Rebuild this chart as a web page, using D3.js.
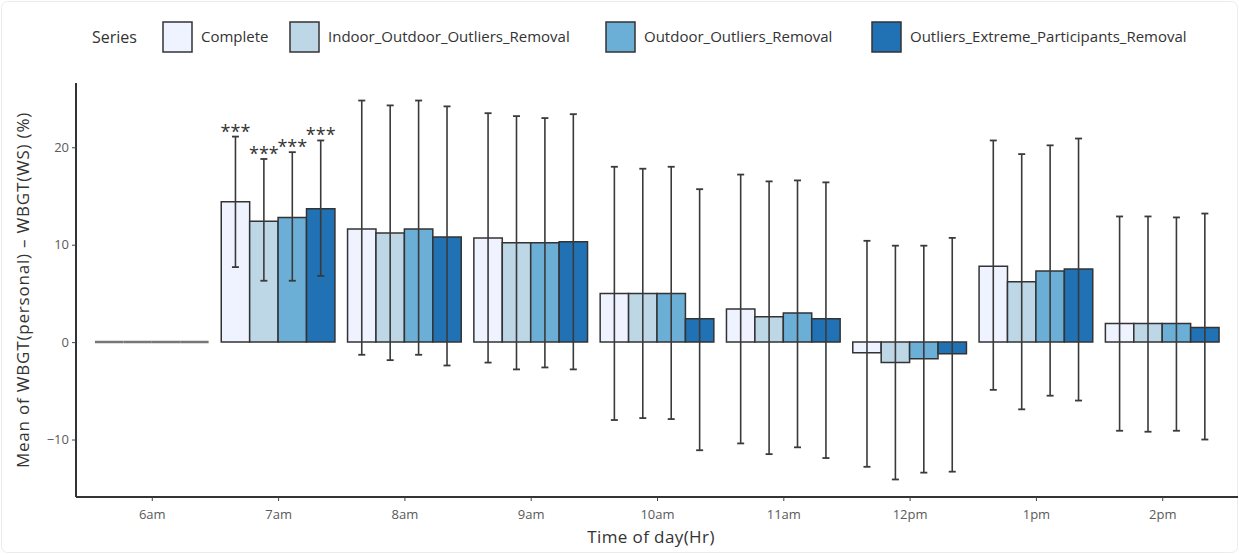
<!DOCTYPE html>
<html>
<head>
<meta charset="utf-8">
<script src="https://cdn.jsdelivr.net/npm/d3@7"></script>
<style>
  body { margin: 0; background: #fff; }
  text { font-family: "Open Sans", "DejaVu Sans", sans-serif; }
</style>
</head>
<body>
<svg id="chart" width="1239" height="554"></svg>
<script>
// categories and series
const times = ["6am", "7am", "8am", "9am", "10am", "11am", "12pm", "1pm", "2pm"];
const series = ["Complete", "Indoor_Outdoor_Outliers_Removal", "Outdoor_Outliers_Removal", "Outliers_Extreme_Participants_Removal"];

// mean values per series
const complete      = [0, 14.4, 11.6, 10.7, 5.0, 3.4, -1.1, 7.8, 1.9];
const indoorOutdoor = [0, 12.4, 11.2, 10.2, 5.0, 2.6, -2.1, 6.2, 1.9];
const outdoor       = [0, 12.8, 11.6, 10.2, 5.0, 3.0, -1.7, 7.3, 1.9];
const extreme       = [0, 13.7, 10.8, 10.3, 2.4, 2.4, -1.2, 7.5, 1.5];

// error bar upper / lower ends
const completeHi      = [null, 21.1, 24.8, 23.5, 18.0, 17.2, 10.4, 20.7, 12.9];
const indoorOutdoorHi = [null, 18.8, 24.3, 23.2, 17.8, 16.5, 9.9, 19.3, 12.9];
const outdoorHi       = [null, 19.5, 24.8, 23.0, 18.0, 16.6, 9.9, 20.2, 12.8];
const extremeHi       = [null, 20.7, 24.2, 23.4, 15.7, 16.4, 10.7, 20.9, 13.2];

const completeLo      = [null, 7.7, -1.3, -2.1, -8.0, -10.4, -12.8, -4.9, -9.1];
const indoorOutdoorLo = [null, 6.3, -1.85, -2.8, -7.8, -11.5, -14.1, -6.9, -9.2];
const outdoorLo       = [null, 6.3, -1.3, -2.6, -7.9, -10.8, -13.4, -5.5, -9.1];
const extremeLo       = [null, 6.8, -2.4, -2.8, -11.1, -11.9, -13.3, -6.0, -10.0];

// significance labels
const stars = ["", "***", "", "", "", "", "", "", ""];

const yTicks = [-10, 0, 10, 20];

const means = [complete, indoorOutdoor, outdoor, extreme];
const highs = [completeHi, indoorOutdoorHi, outdoorHi, extremeHi];
const lows = [completeLo, indoorOutdoorLo, outdoorLo, extremeLo];

const rows = [];
series.forEach((s, si) => {
    times.forEach((t, ti) => {
        rows.push({ time: t, series: s, value: means[si][ti], hi: highs[si][ti], lo: lows[si][ti], label: stars[ti] });
    });
});

const colors = {
    fills: ["#EFF3FF", "#BDD7E7", "#6BAED6", "#2171B5"],
    stroke: "#333333",
    errbar: "#3a3a3a",
    axis: "#333333",
    tickText: "#5a5a5a",
    title: "#333333"
};

const svg = d3.select("#chart");
const margin = { top: 83, right: 1, bottom: 57, left: 76 },
    width = +svg.attr("width") - margin.left - margin.right,
    height = +svg.attr("height") - margin.top - margin.bottom;

// faint outer frame
svg.append("rect")
    .attr("x", 1.5).attr("y", 1.5)
    .attr("width", 1236).attr("height", 551)
    .attr("rx", 6)
    .attr("fill", "none")
    .attr("stroke", "#ececec");

const g = svg.append("g").attr("transform", `translate(${margin.left},${margin.top})`);

const x = d3.scalePoint().domain(times).range([0, width]).padding(0.6);
const groupW = x.step() * 0.9;
const xs = d3.scaleBand().domain(series).range([-groupW / 2, groupW / 2]);
const y = d3.scaleLinear().domain([-15.9, 26.6]).range([height, 0]);
const color = d3.scaleOrdinal().domain(series).range(colors.fills);

// bars (paths so zero height bars still show their outline)
g.selectAll(".bar")
    .data(rows)
    .enter().append("path")
    .attr("class", "bar")
    .attr("d", d => {
        const x0 = x(d.time) + xs(d.series), x1 = x0 + xs.bandwidth();
        const y0 = y(0), y1 = y(d.value);
        return `M${x0},${y0}L${x0},${y1}L${x1},${y1}L${x1},${y0}Z`;
    })
    .attr("fill", d => color(d.series))
    .attr("stroke", d => d.value === 0 ? "#777" : colors.stroke)
    .attr("stroke-width", d => d.value === 0 ? 2.5 : 1.5);

// error bars
const eb = rows.filter(d => d.hi !== null);
const cx = d => x(d.time) + xs(d.series) + xs.bandwidth() / 2;
const capW = 3.5;

g.selectAll(".eb")
    .data(eb)
    .enter().append("line")
    .attr("x1", cx).attr("x2", cx)
    .attr("y1", d => y(d.lo)).attr("y2", d => y(d.hi))
    .attr("stroke", colors.errbar)
    .attr("stroke-width", 1.6);

["hi", "lo"].forEach(k => {
    g.selectAll(".cap-" + k)
        .data(eb)
        .enter().append("line")
        .attr("x1", d => cx(d) - capW).attr("x2", d => cx(d) + capW)
        .attr("y1", d => y(d[k])).attr("y2", d => y(d[k]))
        .attr("stroke", colors.errbar)
        .attr("stroke-width", 1.8);
});

// significance stars
g.selectAll(".star")
    .data(eb.filter(d => d.label))
    .enter().append("text")
    .attr("x", cx)
    .attr("y", d => y(d.hi) + 1)
    .attr("text-anchor", "middle")
    .style("font-size", "18px")
    .style("fill", colors.title)
    .text(d => d.label);

// axes
const xAxis = g.append("g")
    .attr("transform", `translate(0,${height})`)
    .call(d3.axisBottom(x).tickSize(4).tickPadding(9));
const yAxis = g.append("g")
    .call(d3.axisLeft(y).tickValues(yTicks).tickSize(4).tickPadding(3));

[xAxis, yAxis].forEach(a => {
    a.select(".domain").attr("stroke", colors.axis).attr("stroke-width", 2);
    a.selectAll(".tick line").attr("stroke", "#444");
    a.selectAll(".tick text")
        .style("font-size", "13px")
        .style("font-family", "'Open Sans', sans-serif")
        .style("fill", colors.tickText);
});
xAxis.select(".domain").attr("d", `M0,0H${width}`);
yAxis.select(".domain").attr("d", `M0,${height}V0`);

// axis titles
g.append("text")
    .attr("transform", `translate(${width / 2 - 6}, ${height + 46})`)
    .style("text-anchor", "middle")
    .style("font-size", "17px")
    .style("letter-spacing", "0.4px")
    .style("fill", colors.title)
    .text("Time of day(Hr)");

g.append("text")
    .attr("transform", "rotate(-90)")
    .attr("x", -height / 2)
    .attr("y", -margin.left + 29)
    .style("text-anchor", "middle")
    .style("font-size", "17px")
    .style("letter-spacing", "0.8px")
    .style("fill", colors.title)
    .text("Mean of WBGT(personal) \u2013 WBGT(WS) (%)");

// legend
const legend = svg.append("g").attr("transform", "translate(0,37)");
legend.append("text")
    .attr("x", 92).attr("y", 0).attr("dy", "0.35em")
    .style("font-size", "16px")
    .style("fill", colors.title)
    .text("Series");

const keyX = [163, 290, 606, 872];
const item = legend.selectAll(".key")
    .data(series)
    .enter().append("g")
    .attr("transform", (d, i) => `translate(${keyX[i]},0)`);
item.append("rect")
    .attr("x", 0).attr("y", -15)
    .attr("width", 29).attr("height", 30)
    .attr("fill", d => color(d))
    .attr("stroke", colors.stroke)
    .attr("stroke-width", 1.5);
item.append("text")
    .attr("x", 38).attr("y", 0).attr("dy", "0.35em")
    .style("font-size", "15px")
    .style("fill", colors.title)
    .text(d => d);
</script>
</body>
</html>
